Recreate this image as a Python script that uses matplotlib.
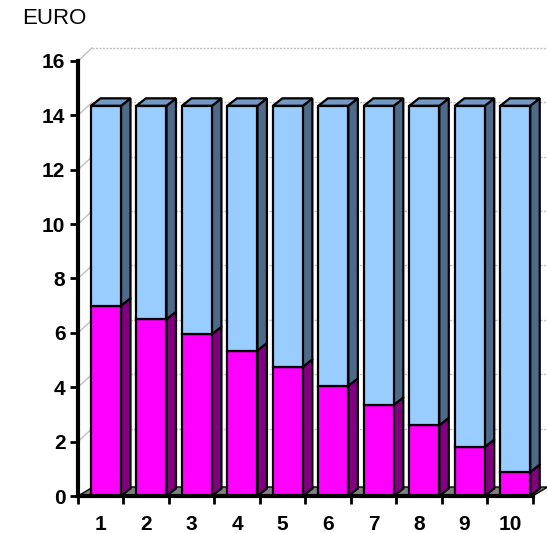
import matplotlib
matplotlib.use("Agg")
import matplotlib.pyplot as plt
from matplotlib.patches import Polygon

categories = ["1", "2", "3", "4", "5", "6", "7", "8", "9", "10"]
lower_values = [7.0, 6.5, 5.95, 5.35, 4.75, 4.05, 3.35, 2.6, 1.8, 0.88]
totals = [14.35] * 10
upper_values = [t - l for t, l in zip(totals, lower_values)]
y_ticks = [0, 2, 4, 6, 8, 10, 12, 14, 16]

W, H = 547, 533
fig = plt.figure(figsize=(W / 100, H / 100), dpi=100)

# pixel geometry
x0_px, x1_px = 78, 547
ybot_px, ytop_px = 496, 30
pitch = 45.47
vpx = 27.19
ax = fig.add_axes([x0_px / W, (H - ybot_px) / H, (x1_px - x0_px) / W, (ybot_px - ytop_px) / H])
xmax = 0.5 + (x1_px - x0_px) / pitch
ymax = (ybot_px - ytop_px) / vpx
ax.set_xlim(0.5, xmax)
ax.set_ylim(0, ymax)

def dxu(px):
    return px / pitch

def dyu(px):
    return px / vpx

n = len(categories)
wall_dx, wall_dy = dxu(14), dyu(13)
floor_dx, floor_dy = dxu(15), dyu(9)
bar_dx, bar_dy = dxu(9.5), dyu(7.5)
bar_off = dxu(13)
bar_w = dxu(30)

grid_c = "#C0C0C0"
# back wall gridlines and left wall diagonals
for v in y_ticks[1:]:
    ax.plot([0.5 + wall_dx, xmax], [v + wall_dy, v + wall_dy], color=grid_c, lw=1,
            ls=(0, (1.5, 1)), zorder=1, clip_on=False)
    ax.plot([0.5, 0.5 + wall_dx], [v, v + wall_dy], color=grid_c, lw=1, zorder=1, clip_on=False)

# floor
floor = Polygon([(0.5, 0), (0.5 + n, 0), (0.5 + n + floor_dx, floor_dy), (0.5 + floor_dx, floor_dy)],
                closed=True, facecolor="#808080", edgecolor="black", lw=1, zorder=2)
ax.add_patch(floor)

edge_lw = 1.6

def box(xl, y0, y1, front, side, top, draw_top, z):
    xr = xl + bar_w
    side_poly = Polygon([(xr, y0), (xr + bar_dx, y0 + bar_dy), (xr + bar_dx, y1 + bar_dy), (xr, y1)],
                        closed=True, facecolor=side, edgecolor="black", lw=edge_lw, zorder=z,
                        joinstyle="miter")
    ax.add_patch(side_poly)
    if draw_top:
        top_poly = Polygon([(xl, y1), (xr, y1), (xr + bar_dx, y1 + bar_dy), (xl + bar_dx, y1 + bar_dy)],
                           closed=True, facecolor=top, edgecolor="black", lw=edge_lw, zorder=z,
                           joinstyle="miter")
        ax.add_patch(top_poly)
    front_poly = Polygon([(xl, y0), (xr, y0), (xr, y1), (xl, y1)], closed=True,
                         facecolor=front, edgecolor="black", lw=edge_lw, zorder=z + 0.1,
                         joinstyle="miter")
    ax.add_patch(front_poly)

for i in range(n):
    c = i + 1
    xl = c - 0.5 + bar_off
    lo = lower_values[i]
    hi = lo + upper_values[i]
    box(xl, 0, lo, "#FF00FF", "#800080", "#C000C0", False, 3 + i)
    box(xl, lo, hi, "#99CCFF", "#4D6A88", "#7399C6", True, 3 + i + 0.3)

# axes styling
for s in ["top", "right"]:
    ax.spines[s].set_visible(False)
ax.spines["left"].set_bounds(0, 16)
ax.spines["bottom"].set_bounds(0.5, 0.5 + n)
ax.spines["left"].set_linewidth(3)
ax.spines["bottom"].set_linewidth(3)
ax.spines["left"].set_zorder(20)
ax.spines["bottom"].set_zorder(20)

ax.set_yticks(y_ticks)
ax.set_yticklabels([str(v) for v in y_ticks], fontsize=15, fontweight="bold", family="Liberation Sans")
ax.tick_params(axis="y", direction="out", length=6, width=2, pad=3)

ax.set_xticks([i + 0.5 for i in range(n + 1)])
ax.set_xticklabels([])
ax.set_xticks([i + 1 for i in range(n)], minor=True)
ax.set_xticklabels(categories, minor=True, fontsize=15, fontweight="bold", family="Liberation Sans")
ax.tick_params(axis="x", which="major", direction="out", length=6, width=2)
ax.tick_params(axis="x", which="minor", length=0, pad=14)

fig.text(22 / W, 1 - 19 / H, "EURO", ha="left", va="center", fontsize=16, family="Liberation Sans")

fig.savefig("out.png", dpi=100)
